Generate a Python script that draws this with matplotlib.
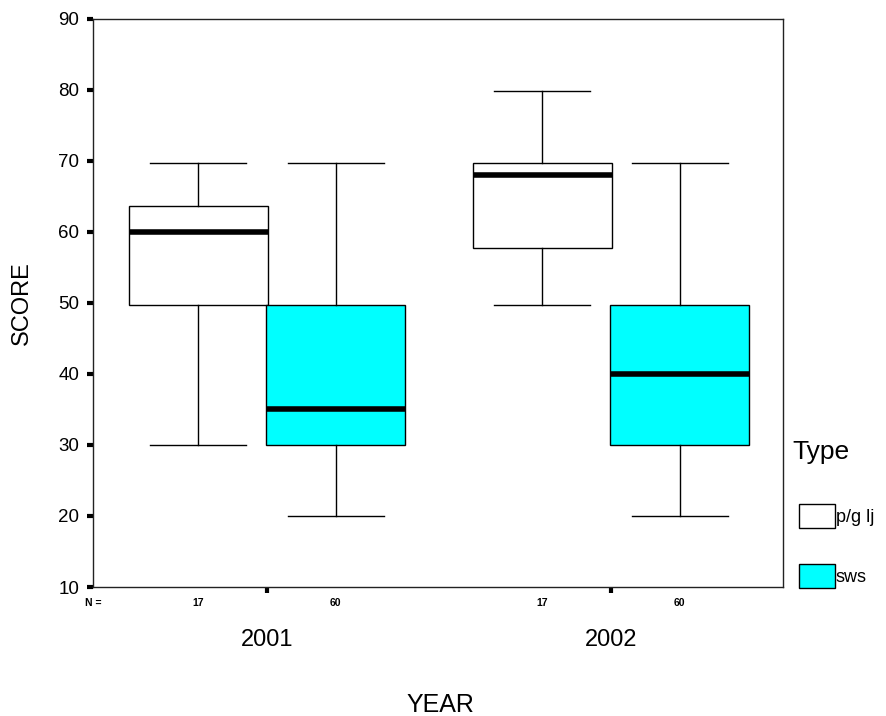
import matplotlib
matplotlib.use('agg')
import matplotlib.pyplot as plt
from matplotlib.patches import Rectangle

plt.rcParams['font.family'] = ['Liberation Sans', 'DejaVu Sans']

years = ['2001', '2002']
types = ['p/g lj', 'sws']
colors = ['white', '#00ffff']
counts = [[17, 60], [17, 60]]

# (whislo, q1, med, q3, whishi) per year, per type
stats_2001 = [(30, 49.7, 60, 63.7, 69.7), (20, 30, 35, 49.7, 69.7)]
stats_2002 = [(49.7, 57.8, 68, 69.7, 79.8), (20, 30, 40, 49.7, 69.7)]
all_stats = [stats_2001, stats_2002]

fig = plt.figure(figsize=(8.86, 7.16), dpi=100)
ax = fig.add_axes([93 / 886, 1 - 587 / 716, 690 / 886, 568 / 716])

offset = 0.2
width = 0.404
for gi, group in enumerate(all_stats):
    for ti, (lo, q1, med, q3, hi) in enumerate(group):
        pos = gi + 1 + (ti - 0.5) * 2 * offset
        s = dict(whislo=lo, q1=q1, med=med, q3=q3, whishi=hi, fliers=[])
        ax.bxp([s], positions=[pos], widths=[width], capwidths=[0.28],
               patch_artist=True, showfliers=False,
               boxprops=dict(facecolor=colors[ti], edgecolor='black', linewidth=1),
               medianprops=dict(color='black', linewidth=4, solid_capstyle='butt'),
               whiskerprops=dict(color='black', linewidth=1),
               capprops=dict(color='black', linewidth=1))

ax.set_xlim(0.494, 2.5)
ax.set_ylim(10, 90)
ax.set_yticks(range(10, 91, 10))
ax.tick_params(axis='y', direction='out', length=4, width=3, labelsize=13.5, pad=6)
ax.set_xticks([1, 2])
ax.set_xticklabels([])
ax.tick_params(axis='x', direction='out', length=4, width=3)
for sp in ax.spines.values():
    sp.set_linewidth(1)
    sp.set_color('#222222')

# N counts and group labels
for gi in range(2):
    for ti in range(2):
        pos = gi + 1 + (ti - 0.5) * 2 * offset
        ax.text(pos, -0.028, str(counts[gi][ti]), transform=ax.get_xaxis_transform(),
                ha='center', va='center', fontsize=7.5, fontweight='bold')
    ax.text(gi + 1, -0.094, years[gi], transform=ax.get_xaxis_transform(),
            ha='center', va='center', fontsize=17)
ax.text(0.494, -0.028, 'N =', transform=ax.get_xaxis_transform(),
        ha='center', va='center', fontsize=7.5, fontweight='bold')

fig.text(440 / 886, 1 - 705 / 716, 'YEAR', ha='center', va='center', fontsize=18)
fig.text(22 / 886, 1 - 303 / 716, 'SCORE', ha='center', va='center', fontsize=17, rotation=90)

# legend
fig.text(792 / 886, 1 - 452 / 716, 'Type', ha='left', va='center', fontsize=19)
for ti, (lab, col) in enumerate(zip(types, colors)):
    y0 = 504 + ti * 60
    fig.patches.append(Rectangle((799 / 886, 1 - (y0 + 24) / 716), 36 / 886, 24 / 716,
                                 transform=fig.transFigure, facecolor=col,
                                 edgecolor='black', linewidth=1))
    fig.text(836 / 886, 1 - (y0 + 13) / 716, lab, ha='left', va='center', fontsize=13)

fig.savefig('out.png', dpi=100)
